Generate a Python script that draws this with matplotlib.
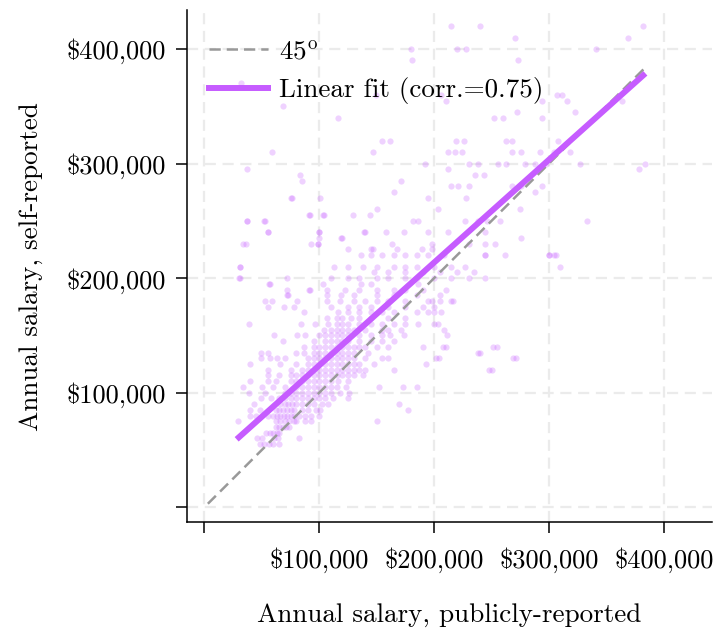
import numpy as np
import matplotlib
matplotlib.use("Agg")
import matplotlib.pyplot as plt

# salaries in $1000s
# dense core: self-reported salary level and the publicly-reported salaries at that level
core_self = [55, 60, 65, 70, 75, 80, 85, 90, 95, 100, 105, 110, 115, 120, 125,
             130, 135, 140, 145, 150, 155, 160, 165, 170, 175, 180, 185, 190, 195,
             200, 205, 210, 220]
core_pub = [
    [48, 52, 56, 60, 65],
    [46, 50, 61, 64, 82],
    [54, 57, 60, 63, 65],
    [62, 65, 68, 71, 74],
    [29, 62, 66, 70, 74, 78, 80, 88, 93, 150],
    [40, 45, 55, 60, 63, 66, 69, 72, 75, 78, 82, 88, 93, 100],
    [40, 48, 62, 65, 68, 72, 75, 78, 85, 90, 97, 101, 177],
    [43, 66, 70, 73, 76, 80, 85, 90, 95, 102, 108, 169],
    [49, 58, 65, 70, 75, 80, 85, 90, 95, 100, 105, 112, 125],
    [39, 53, 70, 75, 80, 85, 90, 95, 100, 105, 110, 118, 126],
    [34, 50, 60, 70, 80, 85, 90, 95, 100, 105, 110, 115, 123, 152, 173, 185],
    [40, 55, 62, 75, 80, 85, 90, 95, 100, 105, 110, 116, 125],
    [55, 65, 75, 80, 85, 90, 95, 100, 105, 110, 115, 120, 125, 130, 138],
    [55, 75, 85, 90, 95, 100, 105, 110, 115, 120, 125, 130, 135, 140, 165, 248, 250],
    [40, 66, 80, 90, 95, 100, 105, 110, 115, 120, 125, 130, 135, 148, 193],
    [49, 57, 63, 70, 90, 95, 100, 105, 110, 115, 120, 125, 130, 140, 155, 160, 202, 204, 269, 271],
    [49, 55, 80, 87, 95, 100, 105, 110, 115, 120, 125, 130, 142, 238, 240],
    [87, 95, 100, 105, 110, 115, 120, 125, 130, 135, 140, 150, 160, 190, 208, 210, 251, 255],
    [68, 95, 105, 110, 115, 120, 125, 135, 145, 155, 165],
    [61, 81, 88, 100, 105, 110, 115, 120, 125, 135, 145, 155, 162, 174, 211],
    [104, 110, 115, 120, 125, 130, 140, 155, 160, 171, 209],
    [39, 84, 96, 108, 115, 120, 125, 135, 145, 155, 165, 175, 186, 200, 203],
    [107, 115, 120, 128, 135, 145, 160, 175],
    [87, 116, 125, 135, 145, 155, 165, 185, 195, 200, 206],
    [55, 69, 78, 110, 125, 135, 145, 160, 175, 190, 200],
    [53, 59, 81, 107, 118, 130, 140, 150, 160, 175, 195, 198, 205, 215, 216],
    [72, 73, 107, 119, 130, 150, 165, 185, 205],
    [72, 91, 92, 107, 122, 135, 150, 165, 175, 190, 210],
    [56, 57, 103, 136, 145, 186],
    [30, 31, 72, 110, 125, 135, 150, 160, 175, 185, 200, 215, 230, 244],
    [148, 160, 175, 190, 205, 220, 235],
    [31, 113, 125, 138, 150, 165, 175, 185, 200, 215, 227, 310],
    [136, 145, 155, 165, 175, 185, 195, 244, 262, 300, 306],
]

# scattered points away from the core
sparse_pub = [215, 240, 382, 270, 369, 180, 220, 228, 341, 181, 273, 32, 149, 206, 307,
              311, 68, 210, 294, 316, 364, 272, 323, 294, 116, 252, 260, 155, 162, 219,
              226, 263, 268, 308, 59, 147, 212, 218, 224, 268, 276, 292, 304, 318, 37,
              83, 192, 230, 238, 256, 263, 279, 288, 297, 327, 384, 85, 212, 236, 243,
              378, 171, 215, 221, 230, 268, 276, 294, 165, 195, 228, 288, 75, 91, 103,
              150, 203, 275, 37, 52, 182, 186, 227, 238, 246, 257, 333, 55, 100, 139,
              158, 174, 195, 212, 244, 276, 34, 99, 119, 163, 198, 230, 244, 253, 145,
              168, 189, 198, 209, 244, 300, 304, 76, 101, 37, 53, 92, 55, 36, 93, 99,
              100, 100, 31, 104, 129, 144, 120, 140, 125, 147]
sparse_self = [420, 420, 420, 410, 410, 400, 400, 400, 400, 390, 390, 370, 360, 360, 360,
               360, 350, 355, 355, 355, 355, 345, 345, 340, 340, 340, 340, 320, 320, 320,
               320, 320, 320, 320, 310, 310, 310, 310, 310, 310, 310, 310, 310, 310, 295,
               290, 300, 300, 300, 300, 300, 300, 300, 300, 300, 300, 285, 295, 290, 290,
               295, 285, 280, 280, 280, 280, 280, 280, 275, 270, 270, 275, 270, 255, 255,
               260, 260, 260, 250, 250, 250, 250, 250, 250, 250, 250, 250, 240, 240, 240,
               240, 240, 240, 240, 240, 235, 230, 230, 235, 230, 230, 230, 230, 230, 225,
               225, 225, 225, 220, 220, 220, 220, 270, 270, 250, 250, 255, 240, 230, 230,
               230, 240, 235, 210, 255, 255, 255, 235, 240, 225, 225]

# fitted line and 45 degree line end points
fit_pub = [30, 382]
fit_self = [61, 377]
diag_pub = [3, 383]
diag_self = [3, 383]

ticks = [0, 100, 200, 300, 400]
tick_labels = ["", r"\$100,000", r"\$200,000", r"\$300,000", r"\$400,000"]

plt.rcParams["font.family"] = "serif"
plt.rcParams["font.serif"] = ["cmr10"]
plt.rcParams["mathtext.fontset"] = "cm"
plt.rcParams["axes.formatter.use_mathtext"] = True

x = []
y = []
for level, xs in zip(core_self, core_pub):
    x += xs
    y += [level] * len(xs)
x = np.array(x + sparse_pub) * 1000
y = np.array(y + sparse_self) * 1000

fig = plt.figure(figsize=(7.2, 6.29), dpi=100)
ax = fig.add_axes([0.26, 0.17, 0.729, 0.814])

purple = "#C65CFF"
ax.scatter(x, y, s=20, color=purple, alpha=0.27, linewidths=0, zorder=2)
ax.plot(np.array(diag_pub) * 1000, np.array(diag_self) * 1000, color="#999999",
        lw=1.8, dashes=(4.5, 2.4), label=r"45$^{\rm o}$", zorder=3)
ax.plot(np.array(fit_pub) * 1000, np.array(fit_self) * 1000, color=purple,
        lw=4.3, label="Linear fit (corr.=0.75)", zorder=4)

ax.set_xlim(-15000, 442000)
ax.set_ylim(-13000, 434000)
ax.set_xticks([t * 1000 for t in ticks])
ax.set_yticks([t * 1000 for t in ticks])
ax.set_xticklabels(tick_labels, fontsize=19)
ax.set_yticklabels(tick_labels, fontsize=19)
ax.tick_params(length=8, width=1.1)
ax.tick_params(axis="x", pad=10)
ax.tick_params(axis="y", pad=7)

ax.grid(True, color="#ebebeb", lw=1.6, linestyle=(0, (5, 3)), zorder=0)
ax.set_axisbelow(True)
for side in ["top", "right"]:
    ax.spines[side].set_visible(False)
for side in ["left", "bottom"]:
    ax.spines[side].set_linewidth(1.1)

ax.set_xlabel("Annual salary, publicly-reported", fontsize=19.5, labelpad=22)
ax.set_ylabel("Annual salary, self-reported", fontsize=19.5, labelpad=17)

ax.legend(loc="upper left", bbox_to_anchor=(0, 0.984), frameon=False, fontsize=19.5,
          handlelength=2.2, handletextpad=0.4, labelspacing=0.5, borderaxespad=0.4)

fig.savefig("out.png", dpi=100)
